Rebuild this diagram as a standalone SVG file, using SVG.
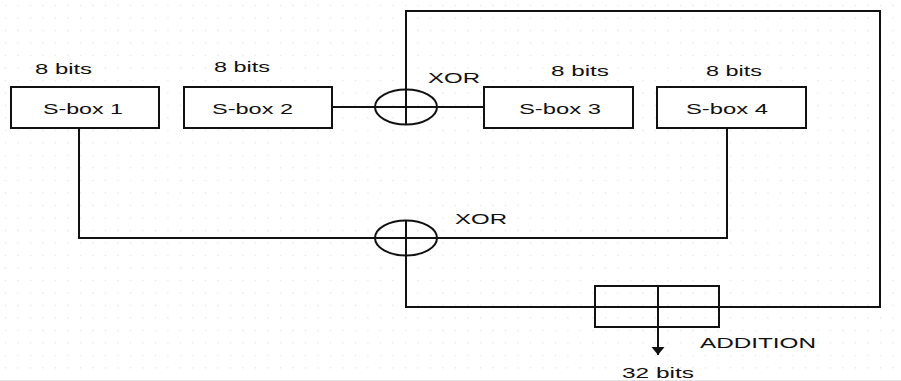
<svg xmlns="http://www.w3.org/2000/svg" width="901" height="381" viewBox="0 0 901 381">
<style>
.box{fill:#fff;stroke:#111;stroke-width:2}
.ln{fill:none;stroke:#111;stroke-width:2}
.t{font-family:"Liberation Sans",Arial,sans-serif;font-size:14px;fill:#111}
.s{font-size:15px}
</style>
<defs>
<pattern id="grid" width="12.5" height="12.5" patternUnits="userSpaceOnUse">
<rect x="5" y="5" width="1" height="1" fill="#d0d0d0"/>
</pattern>
<marker id="arr" markerWidth="10" markerHeight="14" refX="8" refY="7" orient="auto" markerUnits="userSpaceOnUse">
<path d="M0,0.5 L8,7 L0,13.5 Z" fill="#111"/>
</marker>
</defs>
<rect width="901" height="381" fill="#fff"/>
<rect width="901" height="380" fill="url(#grid)"/>
<g id="connectors">
<path class="ln" d="M332,107 H375 M437,107 H484"/>
<path class="ln" d="M406,125 V11 H880 V307 H406 V221"/>
<path class="ln" d="M79,128 V238 H727 V128"/>
<path class="ln" d="M658,286 V355" marker-end="url(#arr)"/>
</g>
<g id="sbox1"><rect class="box" x="11" y="87" width="148" height="41"/><text class="t s" x="43" y="114" textLength="80" lengthAdjust="spacingAndGlyphs">S-box 1</text></g>
<g id="sbox2"><rect class="box" x="184" y="87" width="148" height="41"/><text class="t s" x="212" y="114" textLength="81" lengthAdjust="spacingAndGlyphs">S-box 2</text></g>
<g id="sbox3"><rect class="box" x="484" y="87" width="149" height="41"/><text class="t s" x="519" y="114" textLength="82" lengthAdjust="spacingAndGlyphs">S-box 3</text></g>
<g id="sbox4"><rect class="box" x="657" y="87" width="149" height="41"/><text class="t s" x="686" y="114" textLength="82" lengthAdjust="spacingAndGlyphs">S-box 4</text></g>
<g id="xor1"><ellipse class="ln" cx="406" cy="107" rx="31" ry="17.5"/><line class="ln" x1="375" y1="107" x2="437" y2="107"/><text class="t" x="428" y="83" textLength="52" lengthAdjust="spacingAndGlyphs">XOR</text></g>
<g id="xor2"><ellipse class="ln" cx="406" cy="238" rx="31" ry="17.5"/><line class="ln" x1="406" y1="221" x2="406" y2="256"/><text class="t" x="455" y="224" textLength="52" lengthAdjust="spacingAndGlyphs">XOR</text></g>
<g id="addition"><rect class="ln" x="595" y="286" width="124" height="41"/><line class="ln" x1="595" y1="307" x2="719" y2="307"/><text class="t" x="700" y="348" textLength="116" lengthAdjust="spacingAndGlyphs">ADDITION</text></g>
<g id="labels">
<text class="t" x="35" y="74" textLength="57" lengthAdjust="spacingAndGlyphs">8 bits</text>
<text class="t" x="214" y="72" textLength="56" lengthAdjust="spacingAndGlyphs">8 bits</text>
<text class="t" x="551" y="76" textLength="58" lengthAdjust="spacingAndGlyphs">8 bits</text>
<text class="t" x="706" y="76" textLength="56" lengthAdjust="spacingAndGlyphs">8 bits</text>
<text class="t" x="622" y="378" textLength="72" lengthAdjust="spacingAndGlyphs">32 bits</text>
</g>
<line x1="0" y1="380.5" x2="901" y2="380.5" stroke="#e4e4e4" stroke-width="1"/>
</svg>
